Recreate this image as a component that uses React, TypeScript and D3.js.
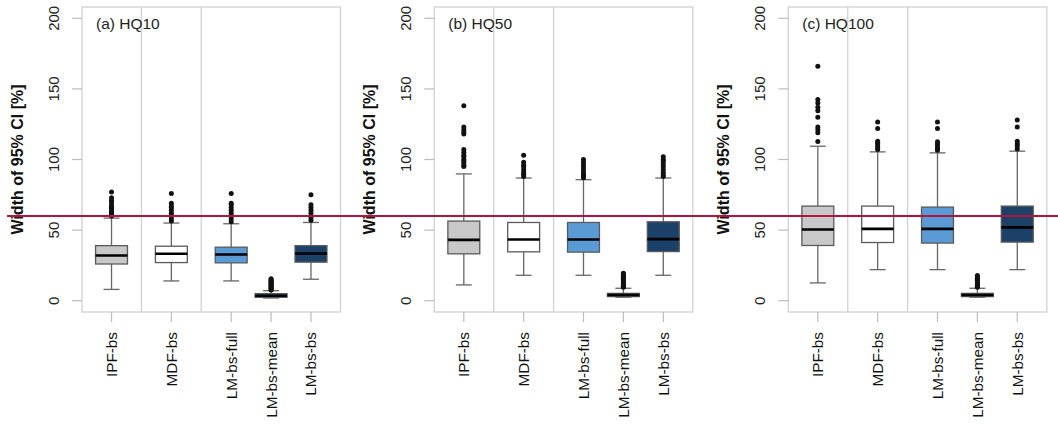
import React from 'react';
import * as d3 from 'd3';

// categories and their x positions (gaps between groups)
const categories = ['IPF-bs', 'MDF-bs', 'LM-bs-full', 'LM-bs-mean', 'LM-bs-bs'];
const positions = [1, 2.5, 4, 5, 6];
const separators = [1.75, 3.25];
const fills = ['#c8c8c8', '#ffffff', '#5b9bd5', '#1f4e79', '#1c4169'];
const panelTitles = ['(a) HQ10', '(b) HQ50', '(c) HQ100'];
const yTicks = [0, 50, 100, 150, 200];
const threshold = 60;

// [lower whisker, q1, median, q3, upper whisker]
const statsHQ10 = [
  [8, 26, 32, 39, 58.5],
  [14, 27, 33.2, 38.6, 55],
  [14, 26.8, 32.7, 37.9, 54.5],
  [1.9, 2.4, 3.5, 5, 7.1],
  [15.2, 27.3, 33.4, 39, 55.4],
];
const outliersHQ10 = [
  [60, 61, 62, 63, 64, 65, 66, 67, 68, 70, 71, 73, 77],
  [56.5, 58, 60, 62, 64, 66, 67, 69, 76],
  [56, 58, 60, 62, 64, 66, 68, 69, 76],
  [7.6, 8.2, 8.8, 9.4, 10, 10.6, 11.2, 11.8, 12.4, 13, 13.6, 14.2, 14.8, 15.6],
  [57, 59, 62, 64, 66, 68, 75],
];

const statsHQ50 = [
  [11.2, 33.2, 43.1, 56.4, 89.8],
  [18, 34.6, 43.3, 55.4, 86.9],
  [18, 34.4, 43.3, 55.4, 85.7],
  [2.5, 2.9, 4, 5.2, 8.8],
  [18, 34.8, 43.6, 55.9, 86.9],
];
const outliersHQ50 = [
  [95, 96, 97.5, 99, 100, 102, 103, 105, 107, 118, 119.5, 121, 123, 138],
  [88, 89.5, 91, 93, 95, 96, 98, 103],
  [87, 88, 89, 90, 92, 94, 96, 98, 100],
  [9.5, 10.2, 11, 11.8, 12.6, 13.4, 14.2, 15, 15.8, 16.6, 17.4, 18.2, 19, 19.5],
  [88, 89, 91, 93, 95, 97, 99, 100, 102],
];

const statsHQ100 = [
  [12.6, 39.1, 50.4, 67, 109.4],
  [22, 41.2, 50.9, 67, 105.4],
  [22, 40.8, 50.9, 66.3, 104.7],
  [2.5, 2.9, 4, 5.2, 8.8],
  [22, 41.5, 51.9, 67, 105.9],
];
const outliersHQ100 = [
  [112.7, 119, 121, 123, 130, 134.5, 137, 140, 142.5, 166],
  [107, 108.5, 110, 111.5, 113, 122, 126.5],
  [106.5, 108, 109.5, 111, 112.5, 122, 126.5],
  [9.5, 10.3, 11.1, 11.9, 12.7, 13.5, 14.3, 15.1, 15.9, 16.7, 17.8],
  [107.5, 109.5, 111, 113, 123, 128],
];

const panels = [
  { title: panelTitles[0], stats: statsHQ10, outliers: outliersHQ10 },
  { title: panelTitles[1], stats: statsHQ50, outliers: outliersHQ50 },
  { title: panelTitles[2], stats: statsHQ100, outliers: outliersHQ100 },
];

const W = 1058;
const H = 424;
const panelOffsets = [0, 352.3, 706.3];
const plotLeft = 82;
const plotWidth = 258.5;
const top = 7;
const bottom = 312;
const font = "'Liberation Sans', Arial, sans-serif";
const frameColor = '#d2d2d2';

const y = d3.scaleLinear().domain([-8, 208]).range([bottom, top]);

function Panel({ offset, title, stats, outliers }) {
  const x = d3
    .scaleLinear()
    .domain([0.26, 6.74])
    .range([offset + plotLeft, offset + plotLeft + plotWidth]);
  const unit = x(1) - x(0);
  const boxW = unit * 0.8;
  const capW = unit * 0.4;
  const x0 = x.range()[0];
  const x1 = x.range()[1];

  return (
    <g>
      {/* frame and group separators */}
      <rect x={x0} y={top} width={x1 - x0} height={bottom - top} fill="none" stroke={frameColor} strokeWidth={1.3} />
      {separators.map((s) => (
        <line key={s} x1={x(s)} x2={x(s)} y1={top} y2={bottom} stroke={frameColor} strokeWidth={1.3} />
      ))}

      {/* y axis */}
      {yTicks.map((t) => (
        <g key={t}>
          <line x1={x0 - 10} x2={x0} y1={y(t)} y2={y(t)} stroke="#bdbdbd" strokeWidth={1.2} />
          <text
            transform={`translate(${x0 - 29},${y(t)}) rotate(-90)`}
            textAnchor="middle"
            dominantBaseline="central"
            fontSize={15}
            fill="#222"
          >
            {t}
          </text>
        </g>
      ))}
      <text
        transform={`translate(${offset + 17.5},${(top + bottom) / 2}) rotate(-90)`}
        textAnchor="middle"
        dominantBaseline="central"
        fontSize={16}
        fontWeight="bold"
        fill="#111"
      >
        Width of 95% CI [%]
      </text>

      {/* x axis */}
      {categories.map((c, i) => (
        <g key={c}>
          <line x1={x(positions[i])} x2={x(positions[i])} y1={bottom} y2={bottom + 10} stroke="#bdbdbd" strokeWidth={1.2} />
          <text
            transform={`translate(${x(positions[i])},${bottom + 20}) rotate(-90)`}
            textAnchor="end"
            dominantBaseline="central"
            fontSize={15.3}
            fill="#111"
          >
            {c}
          </text>
        </g>
      ))}

      <text x={x0 + 14} y={29} fontSize={15.5} fill="#222">
        {title}
      </text>

      {/* boxes */}
      {stats.map((s, i) => {
        const cx = x(positions[i]);
        const [lo, q1, med, q3, hi] = s;
        return (
          <g key={i}>
            <line x1={cx} x2={cx} y1={y(q3)} y2={y(hi)} stroke="#666" strokeWidth={1.3} />
            <line x1={cx} x2={cx} y1={y(q1)} y2={y(lo)} stroke="#666" strokeWidth={1.3} />
            <line x1={cx - capW / 2} x2={cx + capW / 2} y1={y(hi)} y2={y(hi)} stroke="#666" strokeWidth={1.3} />
            <line x1={cx - capW / 2} x2={cx + capW / 2} y1={y(lo)} y2={y(lo)} stroke="#666" strokeWidth={1.3} />
            <rect
              x={cx - boxW / 2}
              y={y(q3)}
              width={boxW}
              height={y(q1) - y(q3)}
              fill={fills[i]}
              stroke="#5a5a5a"
              strokeWidth={1.3}
            />
            <line x1={cx - boxW / 2} x2={cx + boxW / 2} y1={y(med)} y2={y(med)} stroke="#000" strokeWidth={2.6} />
            {outliers[i].map((o, j) => (
              <circle key={j} cx={cx} cy={y(o)} r={2.5} fill="#111" />
            ))}
          </g>
        );
      })}
    </g>
  );
}

export default function App() {
  return (
    <svg
      width={W}
      height={H}
      style={{ display: 'block', position: 'absolute', left: 0, top: 0, fontFamily: font }}
    >
      <rect width={W} height={H} fill="#fff" />
      {panels.map((p, i) => (
        <Panel key={p.title} offset={panelOffsets[i]} title={p.title} stats={p.stats} outliers={p.outliers} />
      ))}
      <line x1={7} x2={W} y1={y(threshold)} y2={y(threshold)} stroke="#b5123e" strokeWidth={2.2} />
    </svg>
  );
}
